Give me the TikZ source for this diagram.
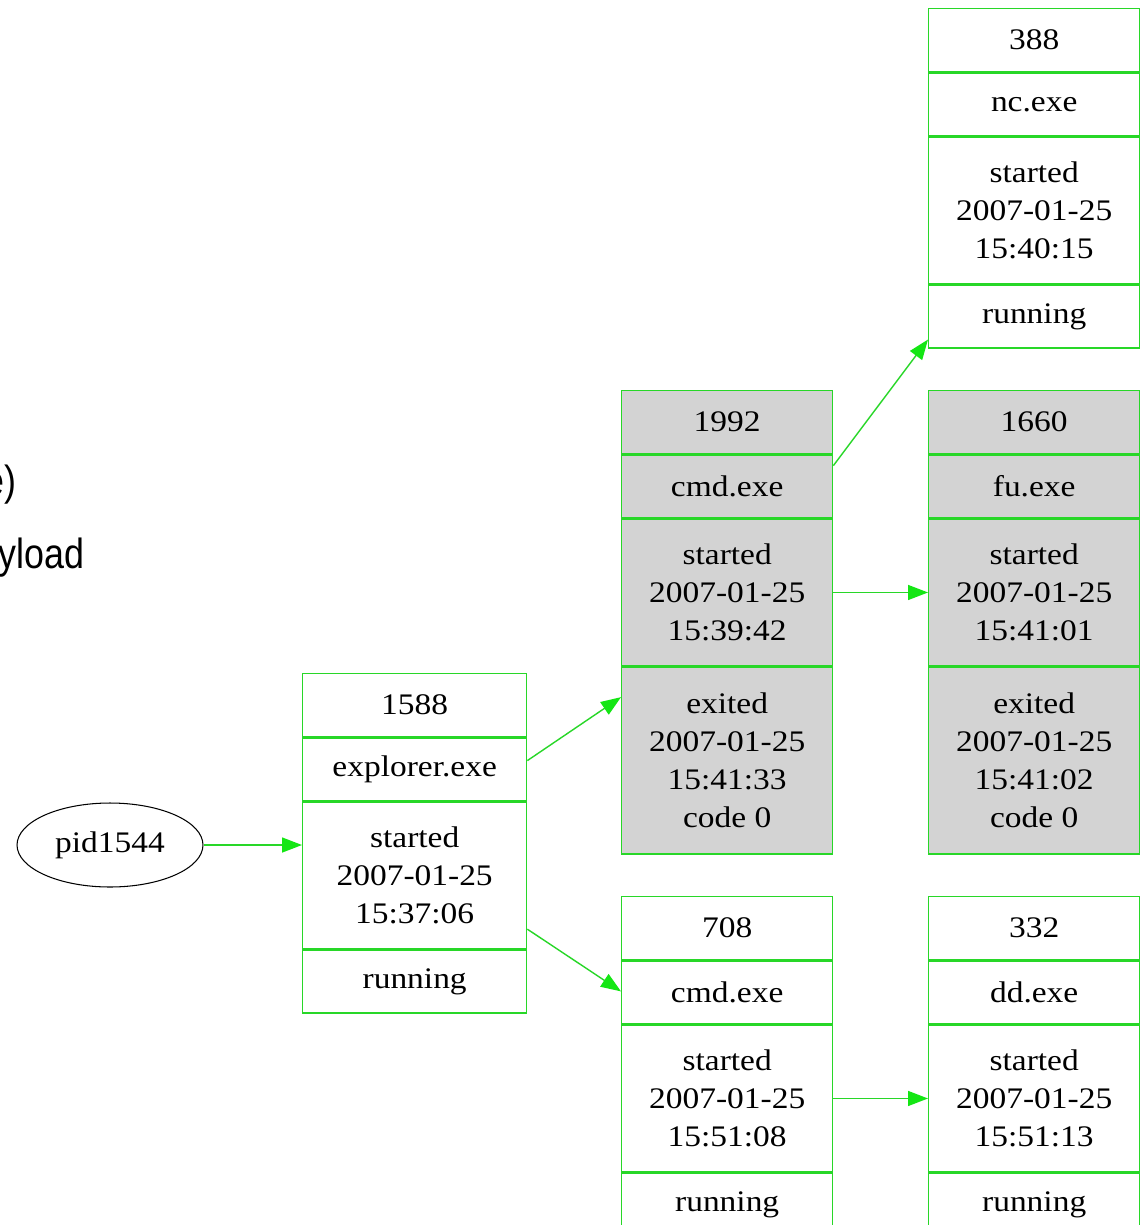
\documentclass[tikz,border=0pt]{standalone}
\usepackage{fontspec}
\setmainfont{Liberation Serif}[FakeStretch=1.12]
\newfontfamily\slidefont{Liberation Sans}[FakeStretch=0.85]
\usetikzlibrary{arrows.meta,shapes.geometric}
\definecolor{gline}{RGB}{40,215,40}
\definecolor{ghead}{RGB}{20,230,20}
\definecolor{rowgray}{RGB}{211,211,211}
\tikzset{
  rowbox/.style={draw=gline, line width=0.8pt, inner sep=0pt, anchor=north west,
    align=center, font=\fontsize{17}{21.5}\selectfont, text=black},
  narrow/.style={minimum width=4.22cm},
  wide/.style={minimum width=4.48cm},
  h1/.style={minimum height=1.26cm},
  h3/.style={minimum height=2.92cm},
  h4/.style={minimum height=3.74cm},
  grayrow/.style={fill=rowgray},
  link/.style={draw=gline, line width=0.8pt,
    -{Triangle[length=0.4cm,width=0.3cm,fill=ghead,color=ghead]}},
  slide/.style={font=\slidefont\fontsize{24}{28}\selectfont, text=black, anchor=base east, inner sep=0pt}
}
\begin{document}
\begin{tikzpicture}[x=0.02cm,y=-0.02cm]
\useasboundingbox (0,0) rectangle (1144,1225);
\clip (0,0) rectangle (1144,1225);
\fill[white] (0,0) rectangle (1144,1225);

% partial slide text on the left
\node[slide] (t1) at (17,495) {e)};
\node[slide] (t2) at (85,568) {yload};

% root ellipse
\node[draw=black, line width=0.6pt, ellipse, minimum width=3.72cm, minimum height=1.68cm,
  inner sep=0pt, font=\fontsize{17}{21.5}\selectfont] (pid) at (110,845) {pid1544};

% record 1588
\node[rowbox,wide,h1] (a1) at (302,673) {1588};
\node[rowbox,wide,h1] (a2) at (a1.south west) {explorer.exe};
\node[rowbox,wide,h3] (a3) at (a2.south west) {started\\2007-01-25\\15:37:06};
\node[rowbox,wide,h1] (a4) at (a3.south west) {running};

% record 1992
\node[rowbox,narrow,h1,grayrow] (b1) at (621,390) {1992};
\node[rowbox,narrow,h1,grayrow] (b2) at (b1.south west) {cmd.exe};
\node[rowbox,narrow,h3,grayrow] (b3) at (b2.south west) {started\\2007-01-25\\15:39:42};
\node[rowbox,narrow,h4,grayrow] (b4) at (b3.south west) {exited\\2007-01-25\\15:41:33\\code 0};

% record 1660
\node[rowbox,narrow,h1,grayrow] (c1) at (928,390) {1660};
\node[rowbox,narrow,h1,grayrow] (c2) at (c1.south west) {fu.exe};
\node[rowbox,narrow,h3,grayrow] (c3) at (c2.south west) {started\\2007-01-25\\15:41:01};
\node[rowbox,narrow,h4,grayrow] (c4) at (c3.south west) {exited\\2007-01-25\\15:41:02\\code 0};

% record 388
\node[rowbox,narrow,h1] (d1) at (928,8) {388};
\node[rowbox,narrow,h1] (d2) at (d1.south west) {nc.exe};
\node[rowbox,narrow,h3] (d3) at (d2.south west) {started\\2007-01-25\\15:40:15};
\node[rowbox,narrow,h1] (d4) at (d3.south west) {running};

% record 708
\node[rowbox,narrow,h1] (e1) at (621,896) {708};
\node[rowbox,narrow,h1] (e2) at (e1.south west) {cmd.exe};
\node[rowbox,narrow,h3] (e3) at (e2.south west) {started\\2007-01-25\\15:51:08};
\node[rowbox,narrow,h1] (e4) at (e3.south west) {running};

% record 332
\node[rowbox,narrow,h1] (f1) at (928,896) {332};
\node[rowbox,narrow,h1] (f2) at (f1.south west) {dd.exe};
\node[rowbox,narrow,h3] (f3) at (f2.south west) {started\\2007-01-25\\15:51:13};
\node[rowbox,narrow,h1] (f4) at (f3.south west) {running};

% connectors
\draw[link] (pid.east) -- (a3.west |- pid.east);
\draw[link] ([yshift=0.18cm]a2.east) -- ([yshift=-0.62cm]b4.north west);
\draw[link] ([yshift=0.4cm]a3.south east) -- ([yshift=-0.62cm]e2.north west);
\draw[link] ([yshift=0.42cm]b2.east) -- ([yshift=0.18cm]d4.south west);
\draw[link] (b3.east) -- (c3.west);
\draw[link] (e3.east) -- (f3.west);
\end{tikzpicture}
\end{document}
